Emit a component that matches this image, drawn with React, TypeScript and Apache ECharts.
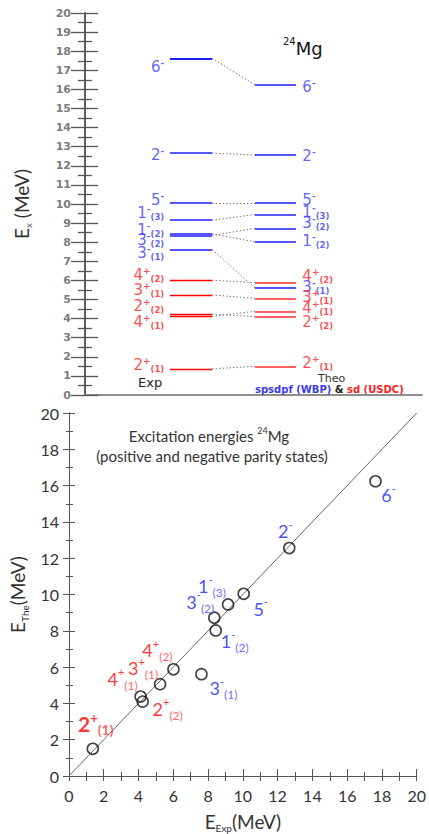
import React, { useEffect, useRef } from 'react';
import * as echarts from 'echarts';

// States of 24Mg: spin, parity and occurrence index
const stateSpin = ['6', '2', '5', '1', '1', '3', '3', '4', '3', '2', '4', '2'];
const stateParity = ['-', '-', '-', '-', '-', '-', '-', '+', '+', '+', '+', '+'];
const stateIndex = ['', '', '', '3', '2', '2', '1', '2', '1', '2', '1', '1'];

// Excitation energies (MeV)
const expEnergy = [17.63, 12.67, 10.05, 9.15, 8.44, 8.36, 7.62, 6.01, 5.24, 4.24, 4.12, 1.37];
const theoEnergy = [16.24, 12.56, 10.04, 9.45, 8.02, 8.72, 5.61, 5.88, 5.06, 4.1, 4.38, 1.5];

// Level-scheme label heights (MeV) so that crowded labels do not overlap
const expLabelAt = [17.17, 12.57, 10.21, 9.53, 8.64, 8.12, 7.43, 6.28, 5.5, 4.66, 3.82, 1.57];
const theoLabelAt = [16.13, 12.51, 10.21, 9.58, 8.06, 9.0, 5.65, 6.23, 5.13, 3.82, 4.55, 1.68];

// Scatter label offsets (px) from each point
const pointLabelOffset = [
  [13, 14], [-4, -17], [17, 15], [-16, -18], [19, 11], [-14, -16],
  [22, 14], [-16, -19], [-17, -16], [25, 7], [-18, -18], [3, -25],
];
const pointLabelBold = [false, false, false, false, false, false, false, false, false, false, false, true];

const axisTicks = [0, 2, 4, 6, 8, 10, 12, 14, 16, 18, 20];

// Level-scheme horizontal layout (0..100 across the top panel)
const EXP_X = [25.2, 37.7];
const THEO_X = [50.4, 62.6];
const EXP_LABEL_X = 23.5;
const THEO_LABEL_X = 64.5;

const BLUE = '#3b3bf0';
const RED = '#ff2020';
const LEVEL_BLUE = '#5656ff';
const LEVEL_RED_EXP = '#ff0000';
const LEVEL_RED_THEO = '#ff6262';

const isPos = (i: number) => stateParity[i] === '+';

const levelLabel = (i: number, big: boolean) => {
  const c = isPos(i) ? 'R' : 'B';
  const pre = big ? 'L' : '';
  let s = `{${pre}m${c}|${stateSpin[i]}}{${pre}p${c}|${stateParity[i]}}`;
  if (stateIndex[i]) s += `{${pre}s${c}|(${stateIndex[i]})}`;
  return s;
};

const smallRich = (color: string) => ({
  m: { fontFamily: 'DejaVu Sans', fontSize: 15, lineHeight: 17, color, fontWeight: 'normal' },
  p: { fontFamily: 'DejaVu Sans', fontSize: 9, verticalAlign: 'top', color, fontWeight: 'bold' },
  s: { fontFamily: 'DejaVu Sans', fontSize: 8.5, verticalAlign: 'bottom', color, fontWeight: 'bold' },
});

const bigRich = (color: string, subColor: string, bold: boolean) => ({
  m: { fontFamily: 'Lato', fontSize: bold ? 21 : 18, lineHeight: 25, color, fontWeight: bold ? 'bold' : 'normal' },
  p: { fontFamily: 'Lato', fontSize: bold ? 13 : 11, verticalAlign: 'top', color, fontWeight: bold ? 'bold' : 'normal' },
  s: { fontFamily: 'Lato', fontSize: bold ? 14 : 12, verticalAlign: 'bottom', color: subColor, fontWeight: bold ? 'bold' : 'normal' },
});

const buildRich = (bold: boolean) => {
  const rich: Record<string, any> = {};
  const sb = smallRich(BLUE);
  const sr = smallRich(RED);
  const bb = bigRich('#1a1aff', '#4646ff', bold);
  const br = bigRich('#ff0000', '#ff3a3a', bold);
  (['m', 'p', 's'] as const).forEach((k) => {
    rich[k + 'B'] = sb[k];
    rich[k + 'R'] = sr[k];
    rich['L' + k + 'B'] = bb[k];
    rich['L' + k + 'R'] = br[k];
  });
  return rich;
};

const App: React.FC = () => {
  const ref = useRef<HTMLDivElement>(null);

  useEffect(() => {
    if (!ref.current) return;
    const chart = echarts.init(ref.current, undefined, { renderer: 'svg' });
    const rich = buildRich(false);
    const boldRich = buildRich(true);

    const expLevels = expEnergy.map((e, i) => ({
      coords: [[EXP_X[0], e], [EXP_X[1], e]],
      lineStyle: isPos(i)
        ? { color: LEVEL_RED_EXP, width: 1.4, opacity: 1 }
        : { color: i === 0 ? '#1e1eff' : LEVEL_BLUE, width: 2, opacity: 1 },
    }));
    const theoLevels = theoEnergy.map((e, i) => ({
      coords: [[THEO_X[0], e], [THEO_X[1], e]],
      lineStyle: isPos(i)
        ? { color: LEVEL_RED_THEO, width: 2.2, opacity: 1 }
        : { color: LEVEL_BLUE, width: 2, opacity: 1 },
    }));
    const connectors = expEnergy.map((e, i) => ({
      coords: [[EXP_X[1], e], [THEO_X[0], theoEnergy[i]]],
    }));

    const expLabels = expEnergy.map((_, i) => ({
      value: [EXP_LABEL_X, expLabelAt[i]],
      label: { formatter: levelLabel(i, false) },
    }));
    const theoLabels = theoEnergy.map((_, i) => ({
      value: [THEO_LABEL_X, theoLabelAt[i]],
      label: { formatter: levelLabel(i, false) },
    }));

    const points = expEnergy.map((e, i) => ({
      value: [e, theoEnergy[i]],
      label: {
        formatter: levelLabel(i, true),
        offset: pointLabelOffset[i],
        rich: pointLabelBold[i] ? boldRich : rich,
      },
    }));

    const bottomAxisLabel = {
      fontFamily: 'Lato',
      fontSize: 16,
      color: '#333',
    };

    chart.setOption({
      animation: false,
      title: [
        {
          text: '{s|24}{m|Mg}',
          left: 283,
          top: 36,
          padding: 0,
          textStyle: {
            fontWeight: 'normal',
            rich: {
              s: { fontFamily: 'DejaVu Sans', fontSize: 10, verticalAlign: 'top', color: '#111', fontWeight: 'normal' },
              m: { fontFamily: 'DejaVu Sans', fontSize: 18, lineHeight: 24, color: '#111', fontWeight: 'normal' },
            },
          },
        },
        {
          text: 'Exp',
          left: 138,
          top: 376,
          padding: 0,
          textStyle: { fontFamily: 'DejaVu Sans', fontSize: 13, fontWeight: 'normal', color: '#222' },
        },
        {
          text: 'Theo',
          left: 318,
          top: 373,
          padding: 0,
          textStyle: { fontFamily: 'DejaVu Sans', fontSize: 11, fontWeight: 'normal', color: '#333' },
        },
        {
          text: '{b|spsdpf (WBP)}{k| & }{r|sd (USDC)}',
          left: 255,
          top: 384,
          padding: 0,
          textStyle: {
            rich: {
              b: { fontFamily: 'DejaVu Sans', fontSize: 10, fontWeight: 'bold', color: '#3b3bf0' },
              k: { fontFamily: 'DejaVu Sans', fontSize: 10, fontWeight: 'bold', color: '#222' },
              r: { fontFamily: 'DejaVu Sans', fontSize: 10, fontWeight: 'bold', color: '#ff2020' },
            },
          },
        },
        {
          text: '{t|Excitation energies }{s|24}{t|Mg}',
          left: 209,
          textAlign: 'center',
          top: 426,
          padding: 0,
          textStyle: {
            fontWeight: 'normal',
            rich: {
              t: { fontFamily: 'Lato', fontSize: 15, lineHeight: 20, color: '#333', fontWeight: 'normal' },
              s: { fontFamily: 'Lato', fontSize: 9, verticalAlign: 'top', color: '#333', fontWeight: 'normal' },
            },
          },
        },
        {
          text: '(positive and negative parity states)',
          left: 212,
          textAlign: 'center',
          top: 448,
          padding: 0,
          textStyle: { fontFamily: 'Lato', fontSize: 15, fontWeight: 'normal', color: '#333' },
        },
      ],
      grid: [
        { left: 85, top: 13, width: 337, height: 382 },
        { left: 63, top: 413, width: 356, height: 365 },
      ],
      xAxis: [
        {
          gridIndex: 0,
          type: 'value',
          min: 0,
          max: 100,
          position: 'bottom',
          axisLine: { show: true, lineStyle: { color: '#444', width: 1.5 } },
          axisTick: { show: false },
          axisLabel: { show: false },
          splitLine: { show: false },
        },
        {
          gridIndex: 0,
          type: 'value',
          min: 0,
          max: 100,
          position: 'top',
          axisLine: { show: true, lineStyle: { color: '#999', width: 1.5 } },
          axisTick: { show: false },
          axisLabel: { show: false },
          splitLine: { show: false },
        },
        {
          gridIndex: 1,
          type: 'value',
          min: 0,
          max: 20,
          interval: 2,
          position: 'bottom',
          axisLine: { show: true, lineStyle: { color: '#555', width: 1 } },
          axisTick: { show: true, inside: true, length: 7, lineStyle: { color: '#555' } },
          minorTick: { show: true, splitNumber: 2, length: 4, lineStyle: { color: '#555' } },
          axisLabel: {
            ...bottomAxisLabel,
            margin: 11,
            formatter: (v: number) => (axisTicks.includes(v) ? String(v) : ''),
          },
          splitLine: { show: false },
          name: '{e|E}{s|Exp}{e|(MeV)}',
          nameLocation: 'middle',
          nameGap: 33,
          nameTextStyle: {
            rich: {
              e: { fontFamily: 'Lato', fontSize: 19, lineHeight: 24, color: '#333' },
              s: { fontFamily: 'Lato', fontSize: 10, verticalAlign: 'bottom', color: '#333' },
            },
          },
        },
        {
          gridIndex: 1,
          type: 'value',
          min: 0,
          max: 20,
          interval: 1,
          position: 'top',
          axisLine: { show: true, lineStyle: { color: '#555', width: 1 } },
          axisTick: { show: true, inside: true, length: 5, lineStyle: { color: '#555' } },
          axisLabel: { show: false },
          splitLine: { show: false },
        },
      ],
      yAxis: [
        {
          gridIndex: 0,
          type: 'value',
          min: 0,
          max: 20,
          interval: 1,
          position: 'left',
          axisLine: { show: true, lineStyle: { color: '#555', width: 1.5 } },
          axisTick: { show: true, inside: true, length: 13, lineStyle: { color: '#555', width: 1.3 } },
          minorTick: { show: true, splitNumber: 2, length: 7, lineStyle: { color: '#555', width: 1.3 } },
          axisLabel: {
            fontFamily: 'DejaVu Sans',
            fontSize: 11,
            fontWeight: 'bold',
            color: '#7c7c7c',
            margin: 14,
          },
          splitLine: { show: false },
          name: '{e|E}{x|x}{e| (MeV)}',
          nameLocation: 'middle',
          nameRotate: 90,
          nameGap: 52,
          nameTextStyle: {
            rich: {
              e: { fontFamily: 'Lato', fontSize: 19, lineHeight: 24, color: '#333' },
              x: { fontFamily: 'Lato', fontSize: 10, verticalAlign: 'bottom', color: '#555' },
            },
          },
        },
        {
          gridIndex: 0,
          type: 'value',
          min: 0,
          max: 20,
          interval: 1,
          position: 'right',
          axisLine: { show: true, lineStyle: { color: '#555', width: 1.5 } },
          axisTick: { show: true, inside: true, length: 14, lineStyle: { color: '#555', width: 1.3 } },
          minorTick: { show: true, splitNumber: 2, length: 7, lineStyle: { color: '#555', width: 1.3 } },
          axisLabel: { show: false },
          splitLine: { show: false },
        },
        {
          gridIndex: 1,
          type: 'value',
          min: 0,
          max: 20,
          interval: 2,
          position: 'left',
          axisLine: { show: true, lineStyle: { color: '#555', width: 1 } },
          axisTick: { show: true, inside: true, length: 6, lineStyle: { color: '#555' } },
          minorTick: { show: true, splitNumber: 2, length: 4, lineStyle: { color: '#555' } },
          axisLabel: { ...bottomAxisLabel, margin: 10 },
          splitLine: { show: false },
          name: '{e|E}{s|The}{e|(MeV)}',
          nameLocation: 'middle',
          nameRotate: 90,
          nameGap: 30,
          nameTextStyle: {
            rich: {
              e: { fontFamily: 'Lato', fontSize: 19, lineHeight: 24, color: '#333' },
              s: { fontFamily: 'Lato', fontSize: 10, verticalAlign: 'bottom', color: '#333' },
            },
          },
        },
        {
          gridIndex: 1,
          type: 'value',
          min: 0,
          max: 20,
          interval: 2,
          position: 'right',
          axisLine: { show: true, lineStyle: { color: '#555', width: 1 } },
          axisTick: { show: true, inside: true, length: 6, lineStyle: { color: '#555' } },
          minorTick: { show: true, splitNumber: 2, length: 3, lineStyle: { color: '#555' } },
          axisLabel: { show: false },
          splitLine: { show: false },
        },
      ],
      series: [
        {
          type: 'lines',
          coordinateSystem: 'cartesian2d',
          xAxisIndex: 0,
          yAxisIndex: 0,
          silent: true,
          lineStyle: { color: '#7a7a7a', width: 1, type: [1.5, 2], opacity: 1 },
          data: connectors,
          z: 2,
        },
        {
          type: 'lines',
          coordinateSystem: 'cartesian2d',
          xAxisIndex: 0,
          yAxisIndex: 0,
          silent: true,
          data: expLevels,
          z: 3,
        },
        {
          type: 'lines',
          coordinateSystem: 'cartesian2d',
          xAxisIndex: 0,
          yAxisIndex: 0,
          silent: true,
          data: theoLevels,
          z: 3,
        },
        {
          type: 'scatter',
          xAxisIndex: 0,
          yAxisIndex: 0,
          symbolSize: 0,
          silent: true,
          label: { show: true, position: 'inside', align: 'right', verticalAlign: 'middle', rich },
          data: expLabels,
        },
        {
          type: 'scatter',
          xAxisIndex: 0,
          yAxisIndex: 0,
          symbolSize: 0,
          silent: true,
          label: { show: true, position: 'inside', align: 'left', verticalAlign: 'middle', rich },
          data: theoLabels,
        },
        {
          type: 'line',
          xAxisIndex: 2,
          yAxisIndex: 2,
          showSymbol: false,
          silent: true,
          lineStyle: { color: '#666', width: 1 },
          data: [[0, 0], [20, 20]],
        },
        {
          type: 'scatter',
          xAxisIndex: 2,
          yAxisIndex: 2,
          symbol: 'circle',
          symbolSize: 11,
          silent: true,
          itemStyle: { color: 'rgba(255,255,255,0)', borderColor: '#111', borderWidth: 1.6 },
          label: { show: true, position: 'inside', align: 'center', verticalAlign: 'middle', rich },
          data: points,
          z: 4,
        },
      ],
    });

    return () => chart.dispose();
  }, []);

  return (
    <div
      ref={ref}
      style={{ position: 'fixed', left: 0, top: 0, width: 429, height: 834, background: '#fff' }}
    />
  );
};

export default App;
